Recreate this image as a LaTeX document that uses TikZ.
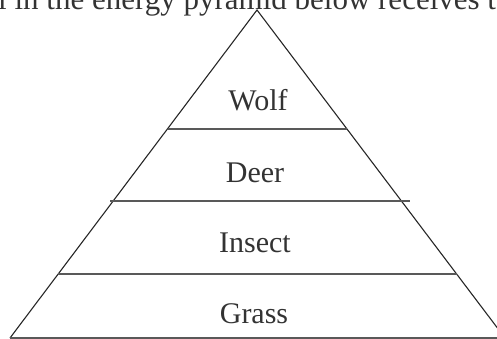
\documentclass[tikz,border=0pt]{standalone}
\usepackage{fontspec}
\setmainfont{Liberation Serif}
\usepackage{tikz}
\usetikzlibrary{positioning}

\begin{document}
\begin{tikzpicture}[x=1pt, y=-1pt,
  side/.style={draw=black!85, line width=1.1pt},
  tier/.style={draw=black!65, line width=1.3pt},
  label/.style={font=\fontsize{30}{36}\selectfont, text=black!80, anchor=base, inner sep=0pt}]
  \useasboundingbox (0,0) rectangle (497,339);
  \clip (0,0) rectangle (497,339);
  \coordinate (apex) at (257,10);
  \coordinate (bl) at (10,338);
  \coordinate (br) at (505,338);
  % sides and base
  \draw[side] (bl) -- (apex) -- (br);
  \draw[tier] (bl) -- (497,338);
  % tier lines
  \draw[tier] (168,129) -- (347,129);
  \draw[tier] (110,201) -- (410,201);
  \draw[tier] (58,274) -- (457,274);
  \node[label] (wolf) at (258,111) {Wolf};
  \node[label] (deer) at (255,182) {Deer};
  \node[label] (insect) at (255,252) {Insect};
  \node[label] (grass) at (254,323) {Grass};
  \node[label, font=\fontsize{31}{36}\selectfont, anchor=base west] (head) at (-2,10) {l in the energy pyramid below receives t};
\end{tikzpicture}
\end{document}
